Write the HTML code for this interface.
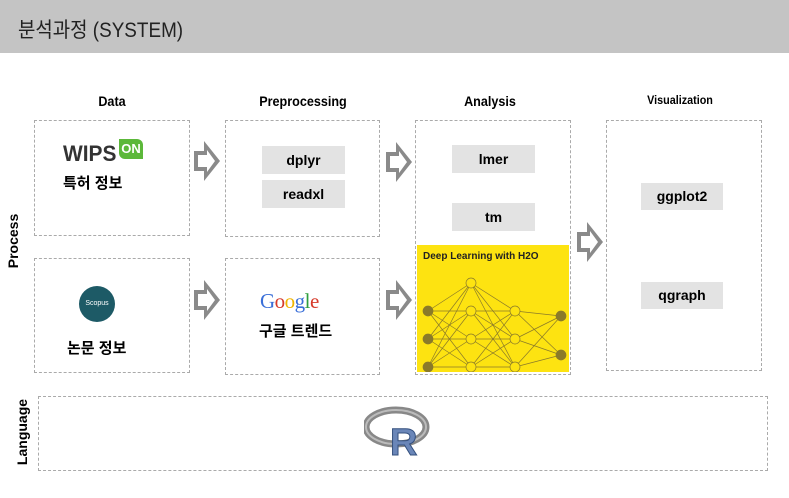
<!DOCTYPE html>
<html><head><meta charset="utf-8"><style>
body{margin:0;width:789px;height:498px;background:#fff;position:relative;overflow:hidden;font-family:"Liberation Sans","Noto Sans CJK KR",sans-serif}
.a{position:absolute}
.box{position:absolute;border:1px dashed #aaa;box-sizing:border-box}
.h{position:absolute;font-weight:bold;font-size:14px;text-align:center;width:160px;transform:scaleX(0.9)}
.g{position:absolute;background:#e3e3e3;font-weight:bold;font-size:14px;text-align:center;width:83px;height:28px;line-height:28px}
.k{position:absolute;font-weight:bold;font-size:15px}
</style></head><body>
<div class="a" style="left:0;top:0;width:789px;height:53px;background:#c4c4c4"></div>
<div class="a" style="left:18px;top:14px;font-size:21px;color:#222;transform:scaleX(0.9);transform-origin:left">분석과정 (SYSTEM)</div>
<div class="h" style="left:32px;top:93px">Data</div>
<div class="h" style="left:223px;top:93px">Preprocessing</div>
<div class="h" style="left:410px;top:93px">Analysis</div>
<div class="h" style="left:600px;top:93px;font-size:12px">Visualization</div>
<div class="box" style="left:34px;top:120px;width:156px;height:116px"></div>
<div class="box" style="left:34px;top:258px;width:156px;height:115px"></div>
<div class="box" style="left:225px;top:120px;width:155px;height:117px"></div>
<div class="box" style="left:225px;top:258px;width:155px;height:117px"></div>
<div class="box" style="left:415px;top:120px;width:156px;height:255px"></div>
<div class="box" style="left:606px;top:120px;width:156px;height:251px"></div>
<div class="box" style="left:38px;top:396px;width:730px;height:75px"></div>
<div class="a" style="left:63px;top:141px;font-weight:900;font-size:22px;color:#333;transform:scaleX(0.95);transform-origin:left">WIPS</div>
<div class="a" style="left:119px;top:139px;width:24px;height:20px;background:#5cb83a;color:#fff;font-weight:bold;font-size:13px;text-align:center;line-height:20px;border-radius:0 6px 0 6px">ON</div>
<div class="k" style="left:63px;top:172px">특허 정보</div>
<div class="a" style="left:79px;top:286px;width:36px;height:36px;border-radius:50%;background:#1d5a66;color:#fff;font-size:7px;text-align:center;line-height:36px">Scopus</div>
<div class="k" style="left:67px;top:337px">논문 정보</div>
<div class="a" style="left:260px;top:289px;font-size:21px;font-family:'Liberation Serif',serif;letter-spacing:-0.5px"><span style="color:#3a6fd8">G</span><span style="color:#d63a2a">o</span><span style="color:#f0b400">o</span><span style="color:#3a6fd8">g</span><span style="color:#2e9e3e">l</span><span style="color:#d63a2a">e</span></div>
<div class="k" style="left:259px;top:320px">구글 트렌드</div>
<div class="g" style="left:262px;top:146px">dplyr</div>
<div class="g" style="left:262px;top:180px">readxl</div>
<div class="g" style="left:452px;top:145px">lmer</div>
<div class="g" style="left:452px;top:203px">tm</div>
<div class="g" style="left:641px;top:183px;width:82px;height:27px;line-height:27px">ggplot2</div>
<div class="g" style="left:641px;top:282px;width:82px;height:27px;line-height:27px">qgraph</div>
<div class="a" style="left:417px;top:245px;width:152px;height:127px;background:#fde311"></div>
<div class="a" style="left:423px;top:251px;font-size:10px;font-weight:bold;color:#222">Deep Learning with H2O</div>
<svg class="a" style="left:417px;top:245px" width="152" height="127" stroke="#8a7a2a" stroke-width="0.7" fill="none">
<path d="M11 66L54 38M11 66L54 66M11 66L54 94M11 66L54 122M11 94L54 38M11 94L54 66M11 94L54 94M11 94L54 122M11 122L54 38M11 122L54 66M11 122L54 94M11 122L54 122"/>
<path d="M54 38L98 66M54 38L98 94M54 38L98 122M54 66L98 66M54 66L98 94M54 66L98 122M54 94L98 66M54 94L98 94M54 94L98 122M54 122L98 66M54 122L98 94M54 122L98 122"/>
<path d="M98 66L144 71M98 66L144 110M98 94L144 71M98 94L144 110M98 122L144 71M98 122L144 110"/>
<g fill="#fde311"><circle cx="54" cy="38" r="5"/><circle cx="54" cy="66" r="5"/><circle cx="54" cy="94" r="5"/><circle cx="54" cy="122" r="5"/><circle cx="98" cy="66" r="5"/><circle cx="98" cy="94" r="5"/><circle cx="98" cy="122" r="5"/></g>
<g fill="#8a7a2a"><circle cx="11" cy="66" r="5"/><circle cx="11" cy="94" r="5"/><circle cx="11" cy="122" r="5"/><circle cx="144" cy="71" r="5"/><circle cx="144" cy="110" r="5"/></g>
</svg>
<svg class="a" style="left:0;top:0" width="789" height="498">
<defs><g id="ar"><path d="M0 10H10V0L26 20L10 40V30H0Z" fill="#8a8a8a"/><path d="M4 14H13V9L21 20L13 31V26H4Z" fill="#fff"/></g></defs>
<use href="#ar" x="194" y="141"/>
<use href="#ar" x="194" y="280"/>
<use href="#ar" x="386" y="142"/>
<use href="#ar" x="386" y="280"/>
<use href="#ar" x="577" y="222"/>
</svg>
<div class="a" style="left:-14px;top:233px;transform:rotate(-90deg);font-weight:bold;font-size:14px">Process</div>
<div class="a" style="left:-11px;top:424px;transform:rotate(-90deg);font-weight:bold;font-size:14px">Language</div>
<svg class="a" style="left:364px;top:405px" width="70" height="55">
<ellipse cx="32" cy="22" rx="30" ry="17" fill="none" stroke="#888" stroke-width="7"/>
<ellipse cx="32" cy="22" rx="30" ry="17" fill="none" stroke="#bbb" stroke-width="2"/>
<text x="26" y="50" font-family="Liberation Sans" font-weight="bold" font-size="38" fill="#6a86b8" stroke="#34507e" stroke-width="1">R</text>
</svg>
</body></html>
